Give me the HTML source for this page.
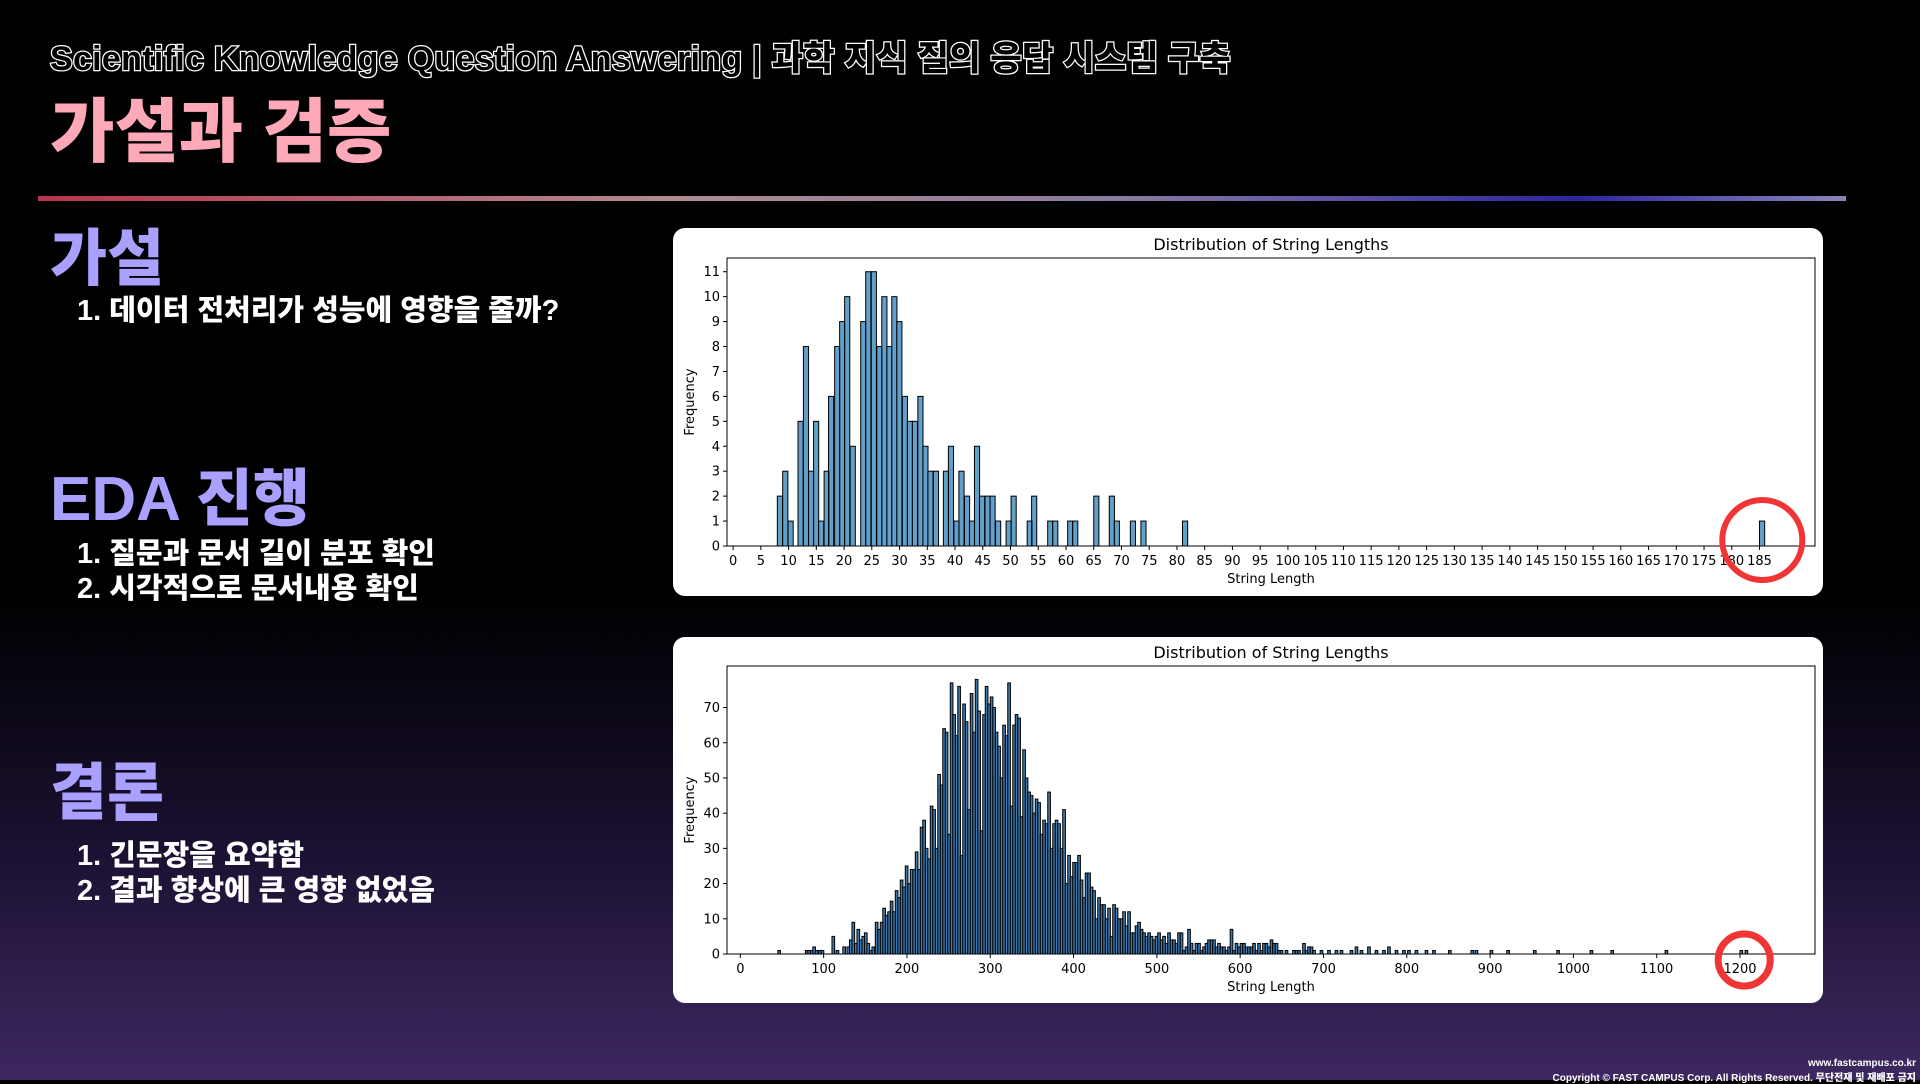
<!DOCTYPE html>
<html><head><meta charset="utf-8"><style>
html,body{margin:0;padding:0}
body{width:1920px;height:1080px;position:relative;overflow:hidden;font-family:"Liberation Sans","Noto Sans CJK KR",sans-serif;
background:linear-gradient(180deg,#000 0%,#000 55%,#1a1030 78%,#3d2860 100%);}
.t{position:absolute;white-space:nowrap;font-family:"Liberation Sans","Noto Sans CJK KR",sans-serif;font-weight:900}
.card{position:absolute;background:#fff;border-radius:12px}
</style></head><body>
<div class="t" style="left:50px;top:31px;font-size:34px;color:#000;-webkit-text-stroke:2.5px #fff;paint-order:stroke fill;letter-spacing:0.3px">Scientific Knowledge Question Answering | 과학 지식 질의 응답 시스템 구축</div>
<div class="t" style="left:50px;top:76px;font-size:70px;color:#ffa8b8">가설과 검증</div>
<div style="position:absolute;left:38px;top:196px;width:1808px;height:5px;background:linear-gradient(90deg,#b8354f,#b08a90 35%,#8a7aa0 60%,#2a25a0 85%,#8a86b6)"></div>
<div class="t" style="left:50px;top:208px;font-size:62px;color:#a9a0ff">가설</div>
<div class="t" style="left:77px;top:287px;font-size:29px;color:#fff">1. 데이터 전처리가 성능에 영향을 줄까?</div>
<div class="t" style="left:50px;top:448px;font-size:62px;color:#a9a0ff">EDA 진행</div>
<div class="t" style="left:77px;top:530px;font-size:29px;color:#fff">1. 질문과 문서 길이 분포 확인</div>
<div class="t" style="left:77px;top:565px;font-size:29px;color:#fff">2. 시각적으로 문서내용 확인</div>
<div class="t" style="left:50px;top:742px;font-size:62px;color:#a9a0ff">결론</div>
<div class="t" style="left:77px;top:832px;font-size:29px;color:#fff">1. 긴문장을 요약함</div>
<div class="t" style="left:77px;top:867px;font-size:29px;color:#fff">2. 결과 향상에 큰 영향 없었음</div>
<div class="t" style="right:4px;top:1058px;font-size:10px;color:#fff">www.fastcampus.co.kr</div>
<div class="t" style="right:4px;top:1069px;font-size:10px;color:#fff">Copyright © FAST CAMPUS Corp. All Rights Reserved. 무단전재 및 재배포 금지</div>
<div class="card" style="left:673px;top:228px;width:1150px;height:368px"></div>
<div class="card" style="left:673px;top:637px;width:1150px;height:366px"></div>
<svg id="svg" width="1920" height="1080" style="position:absolute;left:0;top:0" font-family="DejaVu Sans, Liberation Sans, sans-serif"></svg>
<script>
const topStarts=[7.97,8.94,9.9,11.7,12.67,13.6,14.5,15.4,16.4,17.2,18.3,19.2,20.1,21.1,23,23.9,24.9,25.9,26.8,27.7,28.6,29.5,30.5,31.4,32.3,33.3,34.2,35.1,36.1,37.9,38.8,39.8,40.7,41.7,42.6,43.5,44.4,45.4,46.3,47.3,49.2,50.1,53,53.8,56.7,57.6,60.3,61.2,65,67.8,68.7,71.6,73.5,81,185];
const topCounts=[2,3,1,5,8,3,5,1,3,6,8,9,10,4,9,11,11,8,10,8,10,9,6,5,5,6,4,3,3,3,4,1,3,2,1,4,2,2,2,1,1,2,1,2,1,1,1,1,2,2,1,1,1,1,1];
const topXTicks=[0,5,10,15,20,25,30,35,40,45,50,55,60,65,70,75,80,85,90,95,100,105,110,115,120,125,130,135,140,145,150,155,160,165,170,175,180,185];
const topYTicks=[0,1,2,3,4,5,6,7,8,9,10,11];
const botStarts=[45,78,81,84,87,90,94,97,110,115,123,128,131,134,137,140,143,146,149,152,155,158,162,165,168,171,174,177,180,183,186,189,192,195,198,201,204,207,210,213,216,219,222,225,228,231,234,237,240,243,246,249,252,255,258,261,264,267,270,273,276,279,282,285,288,291,294,297,300,303,306,309,312,315,318,321,324,327,330,333,336,339,342,345,348,351,354,357,360,363,366,369,372,375,378,381,384,387,390,393,396,399,402,405,408,411,414,417,420,423,426,429,432,435,438,441,444,447,450,453,456,459,462,465,468,471,474,477,480,483,486,489,492,495,498,501,504,507,510,513,516,519,522,525,528,531,534,537,540,543,546,549,552,555,558,561,564,567,570,573,576,579,582,585,588,591,594,597,600,603,606,609,612,615,618,621,624,627,630,633,636,639,642,645,648,654,663,666,669,675,678,681,684,687,696,705,714,720,732,738,744,753,762,771,777,786,795,801,810,822,831,850,877,882,900,920,952,980,1020,1045,1110,1200,1206,1212];
const botCounts=[1,1,1,1,2,1,1,1,5,1,2,2,4,9,3,7,4,5,6,3,1,2,9,7,9,13,11,12,15,12,18,16,21,19,25,20,24,24,29,24,36,38,30,27,42,41,30,51,48,64,63,34,77,68,62,76,28,71,66,41,74,63,78,69,35,68,76,71,73,70,63,59,50,65,62,77,42,65,68,67,39,58,50,46,45,40,44,43,34,38,37,46,30,37,38,37,30,41,20,28,22,26,26,28,21,16,23,23,19,18,10,16,14,14,10,13,5,14,13,10,10,12,8,12,6,6,8,9,7,6,5,6,5,4,5,6,4,5,3,6,4,4,3,6,6,1,2,7,3,1,3,3,1,2,3,4,4,4,2,3,2,2,1,2,7,1,3,2,3,3,2,2,2,3,1,3,1,3,3,2,4,3,3,1,1,1,1,1,1,3,1,2,2,1,1,1,1,1,1,2,1,2,1,1,2,1,1,1,1,1,1,1,1,1,1,1,1,1,1,1,1,1,1];
const botXTicks=[0,100,200,300,400,500,600,700,800,900,1000,1100,1200];
const botYTicks=[0,10,20,30,40,50,60,70];

const NS='http://www.w3.org/2000/svg';
const svg=document.getElementById('svg');
function mk(tag,attrs,parent){const e=document.createElementNS(NS,tag);for(const k in attrs)e.setAttribute(k,attrs[k]);(parent||svg).appendChild(e);return e;}
function chart(o){
  const g=mk('g',{});
  
  
  const sx=v=>o.L+(v-o.x0)/(o.x1-o.x0)*(o.R-o.L);
  const sy=v=>o.B-(v-o.y0)/(o.y1-o.y0)*(o.B-o.T);
  for(let i=0;i<o.starts.length;i++){
    const x=sx(o.starts[i]),w=sx(o.starts[i]+o.bw)-x,y=sy(o.counts[i]);
    const r=mk('rect',{x:x,y:y,width:Math.max(w,0.8),height:o.B-y,fill:o.fill,stroke:'#000','stroke-width':o.sw},g);
    
    
  }
  const f=mk('rect',{x:o.L,y:o.T,width:o.R-o.L,height:o.B-o.T,fill:'none',stroke:'#000','stroke-width':1},g);
  
  
  o.xt.forEach(v=>{const x=sx(v);mk('line',{x1:x,x2:x,y1:o.B,y2:o.B+4,stroke:'#000'},g);
    const t=mk('text',{x:x,y:o.B+19,'font-size':13,'text-anchor':'middle',fill:'#000'},g);t.textContent=v;
    
    });
  o.yt.forEach(v=>{const y=sy(v);mk('line',{x1:o.L-4,x2:o.L,y1:y,y2:y,stroke:'#000'},g);
    const t=mk('text',{x:o.L-7,y:y+4.5,'font-size':13,'text-anchor':'end',fill:'#000'},g);t.textContent=v;
    
    });
  const ti=mk('text',{x:(o.L+o.R)/2,y:o.T-8,'font-size':16,'text-anchor':'middle',fill:'#000'},g);ti.textContent='Distribution of String Lengths';
  
  
  const xl=mk('text',{x:(o.L+o.R)/2,y:o.B+37,'font-size':13,'text-anchor':'middle',fill:'#000'},g);xl.textContent='String Length';
  
  
  const yl=mk('text',{x:0,y:0,'font-size':13,'text-anchor':'middle',fill:'#000',transform:`translate(${o.L-33},${(o.T+o.B)/2}) rotate(-90)`},g);yl.textContent='Frequency';
  
  
  const c=mk('ellipse',{cx:sx(o.cx),cy:o.B+o.cdy,rx:o.cr,ry:o.cr,fill:'none',stroke:'#f03535','stroke-width':o.cw},g);
  
  
}
chart({name:'top-histogram',L:727,R:1815,T:258,B:546,x0:-1.1,x1:195,y0:0,y1:11.55,starts:topStarts,counts:topCounts,bw:0.93,xt:topXTicks,yt:topYTicks,sw:1,fill:'rgba(31,119,180,0.7)',cx:185.5,cr:40,cdy:-6,cw:6});
chart({name:'bottom-histogram',L:727,R:1815,T:666,B:954,x0:-16,x1:1290,y0:0,y1:81.8,starts:botStarts,counts:botCounts,bw:3.2,xt:botXTicks,yt:botYTicks,sw:1,fill:'rgba(31,100,160,0.85)',cx:1205,cr:26,cdy:6,cw:7});
</script>
</body></html>
